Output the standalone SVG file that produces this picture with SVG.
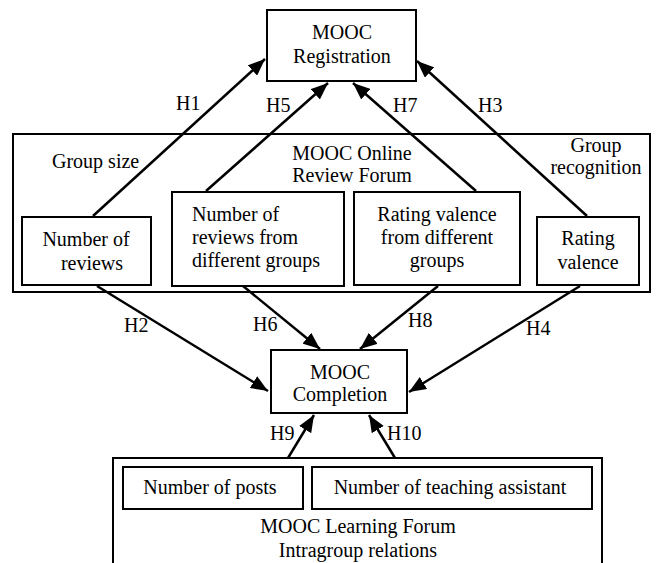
<svg xmlns="http://www.w3.org/2000/svg" width="657" height="563" viewBox="0 0 657 563">
<style>
  .box { fill: none; stroke: #000; stroke-width: 2; }
  .t { font-family: 'Liberation Serif', 'Tinos', 'DejaVu Serif', serif; font-size: 20px; fill: #000; }
  .c { text-anchor: middle; }
  .edge { stroke: #000; stroke-width: 2.5; fill: none; marker-end: url(#arrow); }
</style>
<defs>
  <marker id="arrow" markerUnits="userSpaceOnUse" markerWidth="18" markerHeight="14" refX="17" refY="7" orient="auto">
    <path d="M0,0 L17,7 L0,14 z" fill="#000"/>
  </marker>
</defs>
<rect width="657" height="563" fill="#fff"/>

<g id="review-forum">
  <rect class="box" x="13" y="134" width="637" height="158"/>
  <text class="t c" x="352" y="160">MOOC Online</text>
  <text class="t c" x="352" y="182">Review Forum</text>
  <text class="t" x="52" y="168">Group size</text>
  <text class="t c" x="596" y="152">Group</text>
  <text class="t c" x="596" y="174">recognition</text>
</g>

<g id="learning-forum">
  <rect class="box" x="113" y="458" width="489" height="130"/>
  <text class="t c" x="358" y="533">MOOC Learning Forum</text>
  <text class="t c" x="358" y="557">Intragroup relations</text>
</g>

<g id="registration">
  <rect class="box" x="267" y="10" width="149" height="71"/>
  <text class="t c" x="342" y="39">MOOC</text>
  <text class="t c" x="342" y="63">Registration</text>
</g>

<g id="completion">
  <rect class="box" x="271" y="350" width="136" height="63"/>
  <text class="t c" x="340" y="379">MOOC</text>
  <text class="t c" x="340" y="401">Completion</text>
</g>

<g id="num-reviews">
  <rect class="box" x="22" y="217" width="129" height="68"/>
  <text class="t c" x="86" y="246">Number of</text>
  <text class="t c" x="92" y="270">reviews</text>
</g>

<g id="num-reviews-groups">
  <rect class="box" x="172" y="192" width="172" height="94"/>
  <text class="t" x="192" y="221">Number of</text>
  <text class="t" x="192" y="244">reviews from</text>
  <text class="t" x="192" y="267">different groups</text>
</g>

<g id="valence-groups">
  <rect class="box" x="354" y="192" width="166" height="93"/>
  <text class="t c" x="437" y="221">Rating valence</text>
  <text class="t c" x="437" y="244">from different</text>
  <text class="t c" x="437" y="267">groups</text>
</g>

<g id="rating-valence">
  <rect class="box" x="537" y="217" width="102" height="68"/>
  <text class="t c" x="588" y="245">Rating</text>
  <text class="t c" x="588" y="269">valence</text>
</g>

<g id="num-posts">
  <rect class="box" x="123" y="467" width="180" height="42"/>
  <text class="t c" x="210" y="494">Number of posts</text>
</g>

<g id="num-ta">
  <rect class="box" x="312" y="467" width="280" height="42"/>
  <text class="t c" x="450" y="494">Number of teaching assistant</text>
</g>

<g id="connectors">
  <line class="edge" x1="93" y1="216" x2="265" y2="59"/>
  <line class="edge" x1="206" y1="191" x2="328" y2="83"/>
  <line class="edge" x1="476" y1="191" x2="353" y2="83"/>
  <line class="edge" x1="587" y1="216" x2="417" y2="61"/>
  <line class="edge" x1="97" y1="286" x2="268" y2="391"/>
  <line class="edge" x1="243" y1="286" x2="320" y2="349"/>
  <line class="edge" x1="438" y1="286" x2="360" y2="349"/>
  <line class="edge" x1="580" y1="286" x2="409" y2="392"/>
  <line class="edge" x1="288" y1="458" x2="314" y2="415"/>
  <line class="edge" x1="395" y1="458" x2="369" y2="415"/>
  <text class="t" x="176" y="110">H1</text>
  <text class="t" x="266" y="112">H5</text>
  <text class="t" x="393" y="112">H7</text>
  <text class="t" x="478" y="112">H3</text>
  <text class="t" x="124" y="332">H2</text>
  <text class="t" x="253" y="331">H6</text>
  <text class="t" x="408" y="327">H8</text>
  <text class="t" x="526" y="335">H4</text>
  <text class="t" x="270" y="440">H9</text>
  <text class="t" x="387" y="440">H10</text>
</g>
</svg>
